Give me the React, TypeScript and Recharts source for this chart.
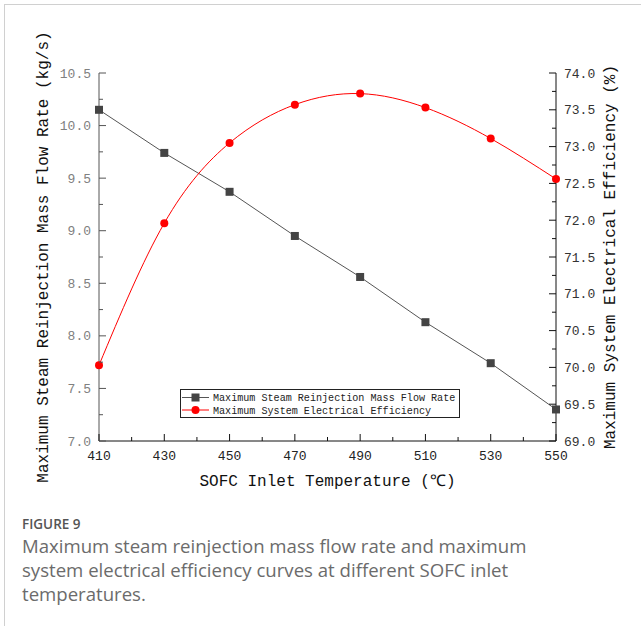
import { LineChart, Line, XAxis, YAxis, Legend } from 'recharts';

const temps = [410, 430, 450, 470, 490, 510, 530, 550];
const flowRate = [10.15, 9.74, 9.37, 8.95, 8.56, 8.13, 7.74, 7.3];
const efficiency = [70.03, 71.96, 73.05, 73.57, 73.72, 73.53, 73.11, 72.56];

const xMajor = [410, 430, 450, 470, 490, 510, 530, 550];
const xMinor = [420, 440, 460, 480, 500, 520, 540];
const leftMajor = [7.0, 7.5, 8.0, 8.5, 9.0, 9.5, 10.0, 10.5];
const leftMinor = [7.25, 7.75, 8.25, 8.75, 9.25, 9.75, 10.25];
const rightMajor = [69.0, 69.5, 70.0, 70.5, 71.0, 71.5, 72.0, 72.5, 73.0, 73.5, 74.0];
const rightMinor = [69.25, 69.75, 70.25, 70.75, 71.25, 71.75, 72.25, 72.75, 73.25, 73.75];

const flowName = 'Maximum Steam Reinjection Mass Flow Rate';
const effName = 'Maximum System Electrical Efficiency';

const data = temps.map((t, i) => ({ t, flow: flowRate[i], eff: efficiency[i] }));

const mono = 'Liberation Mono';
const MARGIN = 8;

const LeftTick = (props: any) => {
  const { x, y, payload } = props;
  const ax = x + MARGIN;
  const major = leftMajor.includes(payload.value);
  return (
    <g>
      <line x1={ax} x2={ax + (major ? 7 : 4)} y1={y} y2={y} stroke="#555" />
      {major && (
        <text x={x} y={y} dy={4.5} textAnchor="end" fontSize={13} fill="#808080" fontFamily={mono}>
          {payload.value.toFixed(1)}
        </text>
      )}
    </g>
  );
};

const RightTick = (props: any) => {
  const { x, y, payload } = props;
  const ax = x - MARGIN;
  const major = rightMajor.includes(payload.value);
  return (
    <g>
      <line x1={ax} x2={ax - (major ? 7 : 4)} y1={y} y2={y} stroke="#111" />
      {major && (
        <text x={x} y={y} dy={4.5} textAnchor="start" fontSize={13} fill="#333" fontFamily={mono}>
          {payload.value.toFixed(1)}
        </text>
      )}
    </g>
  );
};

const BottomTick = (props: any) => {
  const { x, y, payload } = props;
  const ay = y - MARGIN;
  const major = xMajor.includes(payload.value);
  return (
    <g>
      <line x1={x} x2={x} y1={ay} y2={ay - (major ? 7 : 4)} stroke="#111" />
      {major && (
        <text x={x} y={y} dy={11} textAnchor="middle" fontSize={13} fill="#222" fontFamily={mono}>
          {payload.value}
        </text>
      )}
    </g>
  );
};

const SquareDot = (props: any) => {
  const { cx, cy, index } = props;
  return <rect key={`sq-${index}`} x={cx - 4} y={cy - 4} width={8} height={8} fill="#444" />;
};

const LegendBox = () => (
  <svg width={280} height={29} style={{ display: 'block' }}>
    <rect x={0.5} y={0.5} width={279} height={28} fill="#fff" stroke="#222" />
    <line x1={2} x2={29} y1={8.5} y2={8.5} stroke="#555" />
    <rect x={11.5} y={4.5} width={8} height={8} fill="#444" />
    <text x={33} y={12} fontSize={10.1} fontFamily={mono} fill="#222">{flowName}</text>
    <line x1={2} x2={29} y1={21} y2={21} stroke="#f00" />
    <circle cx={15.5} cy={21} r={4} fill="#f00" />
    <text x={33} y={24.5} fontSize={10.1} fontFamily={mono} fill="#222">{effName}</text>
  </svg>
);

export default function App() {
  return (
    <div style={{ position: 'absolute', left: 0, top: 0, width: 641, height: 626, background: '#fff' }}>
      <div
        style={{
          position: 'absolute',
          left: 4,
          top: 4,
          width: 637,
          height: 622,
          borderLeft: '1px solid #d0d0d0',
          borderTop: '1px solid #d0d0d0',
        }}
      />
      <div style={{ position: 'absolute', left: 0, top: 0 }}>
        <LineChart width={641} height={500} data={data} margin={{ top: 73, right: 5, left: 5, bottom: 4 }}>
          <XAxis
            dataKey="t"
            type="number"
            domain={[410, 550]}
            ticks={[...xMajor, ...xMinor].sort((a, b) => a - b)}
            interval={0}
            tickSize={0}
            tickMargin={MARGIN}
            tick={<BottomTick />}
            axisLine={{ stroke: '#111' }}
            height={55}
            label={{ value: 'SOFC Inlet Temperature (℃)', position: 'center', dy: 12, fontSize: 16, fill: '#111', fontFamily: mono }}
          />
          <YAxis
            yAxisId="left"
            orientation="left"
            domain={[7, 10.5]}
            ticks={[...leftMajor, ...leftMinor].sort((a, b) => a - b)}
            interval={0}
            tickSize={0}
            tickMargin={MARGIN}
            tick={<LeftTick />}
            axisLine={{ stroke: '#555' }}
            width={94}
            label={{ value: 'Maximum Steam Reinjection Mass Flow Rate (kg/s)', angle: -90, position: 'center', dx: -10, fontSize: 16, fill: '#111', fontFamily: mono }}
          />
          <YAxis
            yAxisId="right"
            orientation="right"
            domain={[69, 74]}
            ticks={[...rightMajor, ...rightMinor].sort((a, b) => a - b)}
            interval={0}
            tickSize={0}
            tickMargin={MARGIN}
            tick={<RightTick />}
            axisLine={{ stroke: '#111' }}
            width={80}
            label={{ value: 'Maximum System Electrical Efficiency (%)', angle: -90, position: 'center', dx: 13, fontSize: 16, fill: '#111', fontFamily: mono }}
          />
          <Legend
            layout="horizontal"
            verticalAlign="middle"
            align="center"
            content={<LegendBox />}
            wrapperStyle={{ position: 'absolute', left: 180, top: 389, width: 280, height: 29 }}
          />
          <Line
            yAxisId="left"
            dataKey="flow"
            name={flowName}
            type="linear"
            stroke="#555"
            strokeWidth={1}
            dot={<SquareDot />}
            isAnimationActive={false}
          />
          <Line
            yAxisId="right"
            dataKey="eff"
            name={effName}
            type="natural"
            stroke="#f00"
            strokeWidth={1}
            dot={{ r: 4, fill: '#f00', stroke: '#f00', strokeWidth: 0 }}
            isAnimationActive={false}
          />
        </LineChart>
      </div>
      <div
        style={{
          position: 'absolute',
          left: 22,
          top: 514,
          width: 610,
          fontFamily: '"Open Sans", "Noto Sans", sans-serif',
          color: '#6b6b6b',
        }}
      >
        <div style={{ fontSize: 13.5, fontWeight: 600, color: '#555', lineHeight: '20px' }}>FIGURE 9</div>
        <div style={{ fontSize: 18.6, lineHeight: '24px', whiteSpace: 'nowrap' }}>
          Maximum steam reinjection mass flow rate and maximum
          <br />
          system electrical efficiency curves at different SOFC inlet
          <br />
          temperatures.
        </div>
      </div>
    </div>
  );
}
